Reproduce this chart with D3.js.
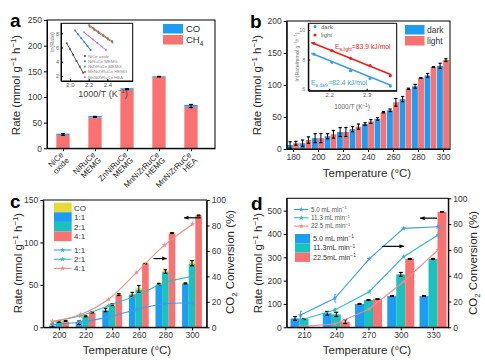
<!DOCTYPE html>
<html><head><meta charset="utf-8">
<script src="https://cdn.jsdelivr.net/npm/d3@7"></script>
<style>body{margin:0;background:#fff}svg{display:block}text{font-family:'Liberation Sans',Arial,sans-serif}</style>
</head><body><svg id="c" width="485" height="360"></svg>
<script>
// ---------- DATA ----------
// Panel a
const aCats = ["NiCe oxide","NiRuCe MEMG","ZnNiRuCe MEMG","MnNiZrRuCe HEMG","MnNiZrRuCe HEA"];
const aLabelLines = [["NiCe","oxide"],["NiRuCe","MEMG"],["ZnNiRuCe","MEMG"],["MnNiZrRuCe","HEMG"],["MnNiZrRuCe","HEA"]];
const aCH4 = [26, 60, 114, 139, 81];
const aCO = [2.5, 3, 3, 1.5, 3.5];
const aErr = [1.5, 1, 1, 0.5, 3];
const aYTicks = [0, 50, 100, 150, 200, 250];
// Panel a inset (ln(Rate) vs 1000/T)
const aInsetNames = ["NiCe oxide","NiRuCe MEMG","NiZrRuCe MEMG","MnNiZrRuCe HEMG","MnNiZrRuCe HEA"];
const aInsetX = [
  [1.965, 2.0, 2.035, 2.07, 2.105, 2.14],
  [2.055, 2.088, 2.121, 2.154, 2.187, 2.22],
  [2.21, 2.259, 2.308, 2.357, 2.406, 2.455],
  [2.205, 2.254, 2.303, 2.352, 2.401, 2.45],
  [2.15, 2.197, 2.244, 2.291, 2.338, 2.385]
];
const aInsetY = [
  [6.6, 5.8, 4.95, 4.1, 3.3, 2.45],
  [8.4, 7.85, 7.3, 6.75, 6.2, 5.65],
  [8.95, 8.5, 8.05, 7.6, 7.15, 6.7],
  [9.15, 8.7, 8.25, 7.8, 7.35, 6.9],
  [8.15, 7.65, 7.15, 6.65, 6.15, 5.65]
];
const aInsetXTicks = [2.0, 2.2, 2.4];
const aInsetYTicks = [2, 4, 6, 8];

// Panel b
const bTemps = [180,190,200,210,220,230,240,250,260,270,280,290,300];
const bDark  = [6.3, 9, 17, 20, 26.5, 31, 39, 47, 60.5, 78, 98, 115, 130];
const bLight = [9, 14, 17, 23, 26.5, 35, 43, 57.5, 73, 94, 111, 128, 139];
const bDarkErr  = [5, 5, 7, 4, 7, 4, 2, 2, 2, 4, 3, 3, 4];
const bLightErr = [3, 5, 7, 6, 7, 4, 3, 1, 6, 1, 0.5, 0.5, 2];
const bYTicks = [0, 50, 100, 150, 200];
const bXTicks = [180, 200, 220, 240, 260, 280, 300];
// Panel b inset
const bInsetX = [2.159, 2.207, 2.257, 2.309, 2.363];
const bInsetLight = [9.10, 8.60, 8.08, 7.58, 6.90];
const bInsetDark  = [8.37, 7.81, 7.24, 6.72, 6.20];
const bFitX = [2.152, 2.366];
const bFitLight = [9.16, 6.96];
const bFitDark = [8.42, 6.24];
const bInsetXTicks = [2.2, 2.3];
const bInsetYTicks = [6, 8, 10];

// Panel c
const cTemps = [200, 220, 240, 260, 280, 300];
const cRatios = ["1:1", "2:1", "4:1"];
const cCH4 = [
  [2, 5, 20, 38, 50, 51],
  [6.5, 12.5, 26, 44.5, 65, 74.5],
  [7, 17, 38, 74.5, 110.5, 131]
];
const cCO = [
  [0.8, 0.8, 1, 1.2, 1.5, 1.5],
  [1, 1, 1.2, 1.5, 1.5, 2],
  [1, 1, 1, 1, 1.2, 1.5]
];
const cErr = [
  [1.5, 2, 2, 2.5, 1, 0.5],
  [1, 0.5, 1, 4, 2, 3],
  [0.5, 0.5, 1, 0.3, 0.5, 0.5]
];
const cConv = [
  [2, 4.2, 8, 14, 18.5, 19],
  [4.5, 9, 17, 25, 35, 40],
  [4.4, 10, 22, 43, 64.5, 81]
];
const cYTicks = [0, 50, 100, 150];
const cY2Ticks = [0, 20, 40, 60, 80, 100];
const cArrows = [{t1: 271, t2: 281, v: 81, head: "right"}, {t1: 294, t2: 306.5, v: 129, head: "left"}];

// Panel d
const dTemps = [210, 240, 270, 300, 330];
const dFlows = ["5.0 mL min", "11.3mL min", "22.5mL min"];
const dFlowsLine = ["5.0 mL min", "11.3 mL min", "22.5 mL min"];
const dRate = [
  [38, 60, 100, 134, 134],
  [35.5, 55.5, 117, 227, 293],
  [0, 24, 121, 293, 495]
];
const dErr = [
  [8, 8, 2, 2, 2],
  [2, 9, 2, 8, 2],
  [0, 8, 1, 2, 1]
];
const dConv = [
  [9.5, 22.5, 53, 76.7, 78],
  [5.7, 13.4, 27.6, 54.7, 71.5],
  [0.5, 2.6, 14.2, 35.3, 60]
];
const dConvErr = [[3, 3, 0, 0, 0], [0, 1, 0, 0, 0], [0, 0, 0, 0, 0]];
const dYTicks = [0, 100, 200, 300, 400, 500];
const dY2Ticks = [0, 20, 40, 60, 80, 100];
const dArrows = [{t1: 282.5, t2: 303, v: 347, head: "right"}, {t1: 318, t2: 333.7, v: 468, head: "left"}];

// ---------- DRAW ----------
const BLUE = "#1C9CF2", RED = "#F97171", TEAL = "#19C3BD", YEL = "#E7DA36";
const LBLUE = "#3A9FEA", LTEAL = "#33BDB5", LRED = "#F28B8B";
const svg = d3.select("#c");
const FONT = "'Liberation Sans',Arial,sans-serif";
const TXT = "#2a2a2a";

function rich(t, parts, fs) {
  let cur = 0;
  parts.forEach(p => {
    const s = p[0], type = p[1];
    const off = type === "sup" ? -0.38 * fs : type === "sub" ? 0.28 * fs : 0;
    t.append("tspan").attr("dy", (off - cur).toFixed(2)).attr("font-size", type ? fs * 0.68 : fs).text(s);
    cur = off;
  });
}
function styleAxis(g, fs, col) {
  g.selectAll("path.domain").attr("stroke", "#000").attr("stroke-width", 1);
  g.selectAll(".tick line").attr("stroke", "#000");
  g.selectAll(".tick text").attr("font-size", fs).attr("fill", col || "#3a3a3a").attr("font-family", FONT);
}
function frame(x0, y0, x1, y1) {
  svg.append("rect").attr("x", x0).attr("y", y0).attr("width", x1 - x0).attr("height", y1 - y0)
    .attr("fill", "none").attr("stroke", "#000").attr("stroke-width", 1);
}
function errBar(g, x, ys, v, e, cap) {
  if (!(e > 0)) return;
  cap = cap || 2;
  const y1 = ys(v - e), y2 = ys(v + e);
  g.append("line").attr("x1", x).attr("x2", x).attr("y1", y1).attr("y2", y2).attr("stroke", "#000").attr("stroke-width", 1);
  [y1, y2].forEach(y => g.append("line").attr("x1", x - cap).attr("x2", x + cap).attr("y1", y).attr("y2", y).attr("stroke", "#000").attr("stroke-width", 1.2));
}
function arrow(xs, ys, a) {
  const x1 = xs(a.t1), x2 = xs(a.t2), y = ys(a.v);
  svg.append("line").attr("x1", x1).attr("x2", x2).attr("y1", y).attr("y2", y).attr("stroke", "#000").attr("stroke-width", 1.2);
  const hx = a.head === "right" ? x2 : x1, s = a.head === "right" ? -1 : 1;
  svg.append("path").attr("d", `M${hx},${y}L${hx + s * 4.5},${y - 2}L${hx + s * 4.5},${y + 2}Z`).attr("fill", "#000");
}
function ylabel(x, y, parts, fs, rot) {
  const t = svg.append("text").attr("transform", `translate(${x},${y}) rotate(${rot || -90})`)
    .attr("text-anchor", "middle").attr("fill", TXT).attr("font-size", fs);
  rich(t, parts, fs);
  return t;
}
function panelLetter(x, y, s) {
  svg.append("text").attr("x", x).attr("y", y).attr("font-size", 19).attr("font-weight", "bold").attr("fill", "#000").text(s);
}
const rateParts = [["Rate (mmol g"], ["\u22121", "sup"], [" h"], ["\u22121", "sup"], [")"]];
const convParts = [["CO"], ["2", "sub"], [" Conversion (%)"]];

// ===== Panel a =====
{
  const X0 = 47, X1 = 215, Y0 = 20, Y1 = 148.3;
  const x = d3.scaleLinear().domain([0.5, 5.75]).range([X0, X1]);
  const y = d3.scaleLinear().domain([0, 250]).range([Y1, Y0]);
  const g = svg.append("g");
  const bw = 13.3;
  aCH4.forEach((v, i) => {
    const cx = x(i + 1);
    g.append("rect").attr("x", cx - bw / 2).attr("width", bw).attr("y", y(v)).attr("height", y(0) - y(v)).attr("fill", RED);
    g.append("rect").attr("x", cx - bw / 2).attr("width", bw).attr("y", y(v + aCO[i])).attr("height", y(v) - y(v + aCO[i])).attr("fill", BLUE);
    errBar(g, cx, y, v + aCO[i] * 0.4, aErr[i], 2);
  });
  frame(X0, Y0, X1, Y1);
  const ga = svg.append("g").attr("transform", `translate(${X0},0)`).call(d3.axisLeft(y).tickValues(aYTicks).tickSize(3).tickPadding(2).tickSizeOuter(0));
  styleAxis(ga, 8.5);
  const gb = svg.append("g").attr("transform", `translate(0,${Y1})`).call(d3.axisBottom(x).tickValues([1, 2, 3, 4, 5]).tickFormat("").tickSize(3).tickSizeOuter(0));
  styleAxis(gb, 8.5);
  aLabelLines.forEach((lines, i) => {
    const t = svg.append("text").attr("transform", `translate(${x(i + 1) + 1},${Y1 + 7}) rotate(-45)`)
      .attr("text-anchor", "end").attr("font-size", 8).attr("fill", TXT);
    lines.forEach((l, k) => t.append("tspan").attr("x", 0).attr("dy", k ? "1em" : 0).text(l));
  });
  ylabel(20, 85, rateParts, 11.5);
  panelLetter(10, 27, "a");
  // legend
  [["CO", BLUE, 24], ["CH", RED, 35]].forEach((d, k) => {
    svg.append("rect").attr("x", 163).attr("y", d[2]).attr("width", 20).attr("height", 9.5).attr("fill", d[1]);
    const t = svg.append("text").attr("x", 186).attr("y", d[2] + 8).attr("font-size", 9.5).attr("fill", TXT);
    if (k === 0) t.text("CO"); else rich(t, [["CH"], ["4", "sub"]], 9.5);
  });
  // inset
  const IX0 = 61, IX1 = 132.7, IY0 = 23.3, IY1 = 81;
  const ix = d3.scaleLinear().domain([1.904, 2.671]).range([IX0, IX1]);
  const iy = d3.scaleLinear().domain([1.28, 9.41]).range([IY1, IY0]);
  svg.append("rect").attr("x", IX0).attr("y", IY0).attr("width", IX1 - IX0).attr("height", IY1 - IY0).attr("fill", "#fff");
  const icol = ["#555555", "#2F7FE0", "#3EA872", "#E0555A", "#B27FE6"];
  aInsetX.forEach((xs, s) => {
    const pts = xs.map((v, k) => [ix(v), iy(aInsetY[s][k])]);
    svg.append("path").attr("d", d3.line()(pts)).attr("fill", "none").attr("stroke", icol[s]).attr("stroke-width", 1);
    pts.forEach(p => svg.append("rect").attr("x", p[0] - 0.9).attr("y", p[1] - 0.9).attr("width", 1.8).attr("height", 1.8).attr("fill", icol[s]));
  });
  frame(IX0, IY0, IX1, IY1);
  const iga = svg.append("g").attr("transform", `translate(${IX0},0)`).call(d3.axisLeft(iy).tickValues(aInsetYTicks).tickFormat(d3.format("d")).tickSize(-2).tickPadding(2).tickSizeOuter(0));
  styleAxis(iga, 5.5, "#666");
  const igb = svg.append("g").attr("transform", `translate(0,${IY1})`).call(d3.axisBottom(ix).tickValues(aInsetXTicks).tickFormat(d3.format(".1f")).tickSize(-2).tickPadding(2).tickSizeOuter(0));
  styleAxis(igb, 6, "#555");
  const xl = svg.append("text").attr("x", 103).attr("y", 96.5).attr("text-anchor", "middle").attr("fill", "#444").attr("font-size", 9);
  rich(xl, [["1000/T (K"], ["\u22121", "sup"], [")"]], 9);
  svg.append("text").attr("transform", "translate(53.5,42) rotate(-90)").attr("text-anchor", "middle").attr("font-size", 5.5).attr("fill", "#777").text("ln(Rate)");
  aInsetNames.forEach((n, s) => {
    const yy = 56 + s * 5.3;
    svg.append("rect").attr("x", 84).attr("y", yy - 0.9).attr("width", 1.8).attr("height", 1.8).attr("fill", icol[s]);
    svg.append("text").attr("x", 88).attr("y", yy + 1.5).attr("font-size", 4.3).attr("fill", "#888").text(n);
  });
}

// ===== Panel b =====
{
  const X0 = 286.7, X1 = 450, Y0 = 21, Y1 = 149;
  const x = d3.scaleLinear().domain([174.96, 305.6]).range([X0, X1]);
  const y = d3.scaleLinear().domain([0, 200]).range([Y1, Y0]);
  const g = svg.append("g");
  const bw = 5.8;
  bTemps.forEach((T, i) => {
    const c = x(T);
    g.append("rect").attr("x", c - bw - 0.15).attr("width", bw).attr("y", y(bDark[i])).attr("height", y(0) - y(bDark[i])).attr("fill", BLUE);
    g.append("rect").attr("x", c + 0.15).attr("width", bw).attr("y", y(bLight[i])).attr("height", y(0) - y(bLight[i])).attr("fill", RED);
  });
  bTemps.forEach((T, i) => {
    const c = x(T);
    errBar(g, c - bw / 2, y, bDark[i], bDarkErr[i], 1.6);
    errBar(g, c + bw / 2, y, bLight[i], bLightErr[i], 1.6);
  });
  frame(X0, Y0, X1, Y1);
  const ga = svg.append("g").attr("transform", `translate(${X0},0)`).call(d3.axisLeft(y).tickValues(bYTicks).tickSize(3).tickPadding(2).tickSizeOuter(0));
  styleAxis(ga, 8.5);
  const gb = svg.append("g").attr("transform", `translate(0,${Y1})`).call(d3.axisBottom(x).tickValues(bXTicks).tickSize(3).tickPadding(2).tickSizeOuter(0));
  styleAxis(gb, 8.5);
  ylabel(261, 85, rateParts, 11.5);
  svg.append("text").attr("x", 367).attr("y", 177).attr("text-anchor", "middle").attr("font-size", 11.5).attr("fill", TXT).text("Temperature (\u00B0C)");
  panelLetter(250, 28, "b");
  [["dark", BLUE, 25], ["light", RED, 36]].forEach(d => {
    svg.append("rect").attr("x", 405).attr("y", d[2]).attr("width", 19.5).attr("height", 9.5).attr("fill", d[1]);
    svg.append("text").attr("x", 427).attr("y", d[2] + 7.5).attr("font-size", 8.5).attr("fill", "#333").text(d[0]);
  });
  // inset
  const IX0 = 308.3, IX1 = 396.7, IY0 = 23.3, IY1 = 90.7;
  const ix = d3.scaleLinear().domain([2.1439, 2.3802]).range([IX0, IX1]);
  const iy = d3.scaleLinear().domain([5.885, 10.454]).range([IY1, IY0]);
  svg.append("rect").attr("x", IX0).attr("y", IY0).attr("width", IX1 - IX0).attr("height", IY1 - IY0).attr("fill", "#fff");
  const lc = "#E8211D", dc = "#3C9EE6";
  svg.append("path").attr("d", d3.line()(bFitX.map((v, k) => [ix(v), iy(bFitLight[k])]))).attr("stroke", lc).attr("stroke-width", 1.6).attr("fill", "none");
  svg.append("path").attr("d", d3.line()(bFitX.map((v, k) => [ix(v), iy(bFitDark[k])]))).attr("stroke", dc).attr("stroke-width", 1.6).attr("fill", "none");
  bInsetX.forEach((v, k) => {
    svg.append("circle").attr("cx", ix(v)).attr("cy", iy(bInsetLight[k])).attr("r", 1.6).attr("fill", lc);
    svg.append("circle").attr("cx", ix(v)).attr("cy", iy(bInsetDark[k])).attr("r", 1.6).attr("fill", dc);
  });
  frame(IX0, IY0, IX1, IY1);
  const iga = svg.append("g").attr("transform", `translate(${IX0},0)`).call(d3.axisLeft(iy).tickValues(bInsetYTicks).tickFormat(d3.format("d")).tickSize(-2).tickPadding(3).tickSizeOuter(0));
  styleAxis(iga, 5.5, "#777");
  const igb = svg.append("g").attr("transform", `translate(0,${IY1})`).call(d3.axisBottom(ix).tickValues(bInsetXTicks).tickFormat(d3.format(".1f")).tickSize(-2).tickPadding(2).tickSizeOuter(0));
  styleAxis(igb, 6, "#666");
  const xl = svg.append("text").attr("x", 352).attr("y", 109).attr("text-anchor", "middle").attr("fill", "#666").attr("font-size", 6.5);
  rich(xl, [["1000/T (K"], ["\u22121", "sup"], [")"]], 6.5);
  const yl = svg.append("text").attr("transform", "translate(299,57) rotate(-90)").attr("text-anchor", "middle").attr("fill", "#777").attr("font-size", 5.3);
  rich(yl, [["ln(Rate/mmol g"], ["\u22121", "sup"], ["h"], ["\u22121", "sup"], [")"]], 5.3);
  [["dark", dc, 26.7], ["light", lc, 35]].forEach(d => {
    svg.append("circle").attr("cx", 315).attr("cy", d[2]).attr("r", 1.6).attr("fill", d[1]);
    svg.append("text").attr("x", 321).attr("y", d[2] + 2).attr("font-size", 6).attr("fill", "#666").text(d[0]);
  });
  const e1 = svg.append("text").attr("x", 335).attr("y", 49).attr("font-size", 6.8).attr("fill", lc);
  rich(e1, [["E"], ["a,light", "sub"], ["=83.9 kJ/mol"]], 6.8);
  const e2 = svg.append("text").attr("x", 311).attr("y", 85).attr("font-size", 6.8).attr("fill", dc);
  rich(e2, [["E"], ["a,dark", "sub"], ["=82.4 kJ/mol"]], 6.8);
}

// ===== Panel c =====
{
  const X0 = 43.3, X1 = 206.7, Y0 = 200, Y1 = 327.3;
  const x = d3.scaleLinear().domain([188.2, 311.05]).range([X0, X1]);
  const xl = d3.scaleLinear().domain([200, 300]).range([52.5, 192.5]);
  const y = d3.scaleLinear().domain([0, 150]).range([Y1, Y0]);
  const y2 = d3.scaleLinear().domain([0, 100]).range([Y1, Y0]);
  const g = svg.append("g");
  const bw = 6.6, cols = [BLUE, TEAL, RED];
  cTemps.forEach((T, i) => {
    cRatios.forEach((r, s) => {
      const c = x(T) + (s - 1) * bw;
      const v = cCH4[s][i], co = cCO[s][i];
      g.append("rect").attr("x", c - bw / 2).attr("width", bw).attr("y", y(v)).attr("height", y(0) - y(v)).attr("fill", cols[s]);
      g.append("rect").attr("x", c - bw / 2).attr("width", bw).attr("y", y(v + co)).attr("height", y(v) - y(v + co)).attr("fill", YEL);
    });
  });
  cTemps.forEach((T, i) => cRatios.forEach((r, s) => errBar(g, x(T) + (s - 1) * bw, y, cCH4[s][i] + cCO[s][i] * 0.5, cErr[s][i], 1.8)));
  const lcol = [LBLUE, LTEAL, LRED];
  const star = d3.symbol().type(d3.symbolStar).size(9);
  cConv.forEach((arr, s) => {
    const pts = arr.map((v, i) => [xl(cTemps[i]), y2(v)]);
    svg.append("path").attr("d", d3.line().curve(d3.curveCatmullRom)(pts)).attr("fill", "none").attr("stroke", lcol[s]).attr("stroke-width", 1.1);
    pts.forEach(p => svg.append("path").attr("d", star).attr("transform", `translate(${p[0]},${p[1]})`).attr("fill", lcol[s]));
  });
  cArrows.forEach(a => arrow(x, y, a));
  frame(X0, Y0, X1, Y1);
  const ga = svg.append("g").attr("transform", `translate(${X0},0)`).call(d3.axisLeft(y).tickValues(cYTicks).tickSize(3).tickPadding(2).tickSizeOuter(0));
  styleAxis(ga, 8.5);
  const gr = svg.append("g").attr("transform", `translate(${X1},0)`).call(d3.axisRight(y2).tickValues(cY2Ticks).tickSize(3).tickPadding(2).tickSizeOuter(0));
  styleAxis(gr, 8.5);
  const gb = svg.append("g").attr("transform", `translate(0,${Y1})`).call(d3.axisBottom(x).tickValues(cTemps).tickSize(3).tickPadding(2).tickSizeOuter(0));
  styleAxis(gb, 8.5);
  ylabel(22, 263, rateParts, 11.5);
  ylabel(234, 262, convParts, 11.5);
  svg.append("text").attr("x", 127).attr("y", 354).attr("text-anchor", "middle").attr("font-size", 11.5).attr("fill", TXT).text("Temperature (\u00B0C)");
  panelLetter(10, 208, "c");
  // legend
  const leg = [["CO", YEL], ["1:1", BLUE], ["2:1", TEAL], ["4:1", RED]];
  leg.forEach((d, k) => {
    const yy = 202.7 + k * 9.6;
    svg.append("rect").attr("x", 54).attr("y", yy).attr("width", 17.7).attr("height", 9.6).attr("fill", d[1]);
    svg.append("text").attr("x", 74).attr("y", yy + 7.8).attr("font-size", 8).attr("fill", "#333").text(d[0]);
  });
  cRatios.forEach((r, s) => {
    const yy = 250 + s * 9.2;
    svg.append("line").attr("x1", 54).attr("x2", 71.5).attr("y1", yy).attr("y2", yy).attr("stroke", lcol[s]).attr("stroke-width", 1.1);
    svg.append("path").attr("d", star).attr("transform", `translate(62.7,${yy})`).attr("fill", lcol[s]);
    svg.append("text").attr("x", 74).attr("y", yy + 3).attr("font-size", 8).attr("fill", "#333").text(r);
  });
}

// ===== Panel d =====
{
  const X0 = 286.7, X1 = 448.3, Y0 = 198.3, Y1 = 327.3;
  const x = d3.scaleLinear().domain([193.9, 344.2]).range([X0, X1]);
  const xl = d3.scaleLinear().domain([210, 330]).range([300.5, 438]);
  const y = d3.scaleLinear().domain([0, 553]).range([Y1, Y0]);
  const y2 = d3.scaleLinear().domain([0, 100]).range([Y1, Y0]);
  const g = svg.append("g");
  const bw = 9, cols = [BLUE, TEAL, RED];
  dTemps.forEach((T, i) => dFlows.forEach((f, s) => {
    const c = x(T) + (s - 1) * bw, v = dRate[s][i];
    g.append("rect").attr("x", c - bw / 2).attr("width", bw).attr("y", y(v)).attr("height", y(0) - y(v)).attr("fill", cols[s]);
  }));
  dTemps.forEach((T, i) => dFlows.forEach((f, s) => errBar(g, x(T) + (s - 1) * bw, y, dRate[s][i], dErr[s][i], 2)));
  const lcol = [LBLUE, LTEAL, LRED];
  const star = d3.symbol().type(d3.symbolStar).size(9);
  dConv.forEach((arr, s) => {
    const pts = arr.map((v, i) => [xl(dTemps[i]), y2(v)]);
    svg.append("path").attr("d", d3.line()(pts)).attr("fill", "none").attr("stroke", lcol[s]).attr("stroke-width", 1.1);
    pts.forEach(p => svg.append("path").attr("d", star).attr("transform", `translate(${p[0]},${p[1]})`).attr("fill", lcol[s]));
    arr.forEach((v, i) => {
      const e = dConvErr[s][i];
      if (e > 0) {
        const px = xl(dTemps[i]);
        svg.append("path").attr("d", `M${px + 1.5},${y2(v - e)}H${px}V${y2(v + e)}H${px + 1.5}`).attr("fill", "none").attr("stroke", lcol[s]).attr("stroke-width", 1);
      }
    });
  });
  dArrows.forEach(a => arrow(x, y, a));
  frame(X0, Y0, X1, Y1);
  const ga = svg.append("g").attr("transform", `translate(${X0},0)`).call(d3.axisLeft(y).tickValues(dYTicks).tickSize(3).tickPadding(2).tickSizeOuter(0));
  styleAxis(ga, 8.5);
  const gr = svg.append("g").attr("transform", `translate(${X1},0)`).call(d3.axisRight(y2).tickValues(dY2Ticks).tickSize(3).tickPadding(2).tickSizeOuter(0));
  styleAxis(gr, 8.5);
  const gb = svg.append("g").attr("transform", `translate(0,${Y1})`).call(d3.axisBottom(x).tickValues(dTemps).tickSize(3).tickPadding(2).tickSizeOuter(0));
  styleAxis(gb, 8.5);
  ylabel(262, 263, rateParts, 11.5);
  ylabel(477, 263, convParts, 11.5);
  svg.append("text").attr("x", 367).attr("y", 354).attr("text-anchor", "middle").attr("font-size", 11.5).attr("fill", TXT).text("Temperature (\u00B0C)");
  panelLetter(251, 210, "d");
  // line legend
  dFlowsLine.forEach((f, s) => {
    const yy = 209.5 + s * 8.3;
    svg.append("line").attr("x1", 294).attr("x2", 308.5).attr("y1", yy).attr("y2", yy).attr("stroke", lcol[s]).attr("stroke-width", 1.1);
    svg.append("path").attr("d", star).attr("transform", `translate(301.2,${yy})`).attr("fill", lcol[s]);
    const t = svg.append("text").attr("x", 311).attr("y", yy + 2.2).attr("font-size", 6.3).attr("fill", "#555");
    rich(t, [[f], ["\u22121", "sup"]], 6.3);
  });
  dFlows.forEach((f, s) => {
    const yy = 234 + s * 9.3;
    svg.append("rect").attr("x", 295).attr("y", yy).attr("width", 15).attr("height", 9.3).attr("fill", cols[s]);
    const t = svg.append("text").attr("x", 313).attr("y", yy + 7).attr("font-size", 7.2).attr("fill", "#333");
    rich(t, [[f], ["\u22121", "sup"]], 7.2);
  });
}
</script></body></html>
